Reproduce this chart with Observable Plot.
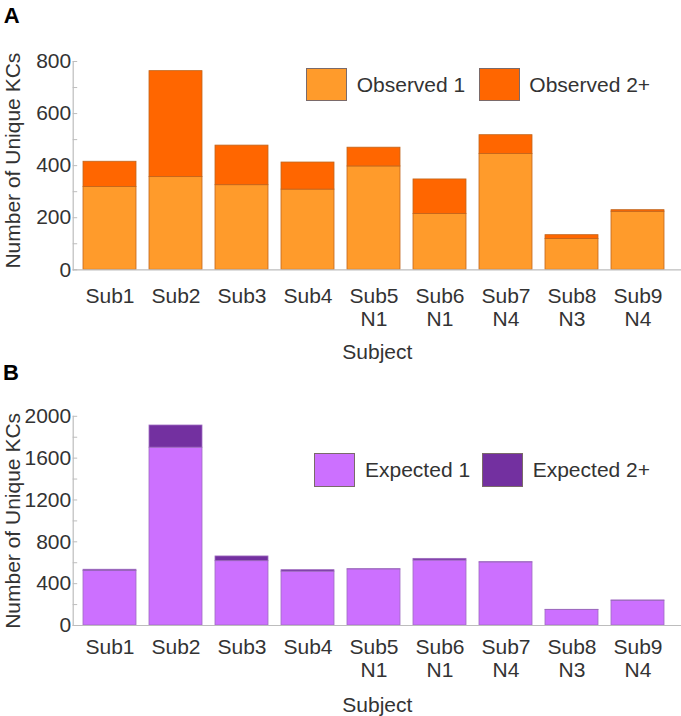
<!DOCTYPE html>
<html>
<head>
<meta charset="utf-8">
<script src="https://cdn.jsdelivr.net/npm/d3@7"></script>
<script src="https://cdn.jsdelivr.net/npm/@observablehq/plot@0.6"></script>
<style>
  html, body { margin: 0; padding: 0; background: #fff; }
  #root { position: relative; width: 681px; height: 716px; font-family: "Liberation Sans", Arial, sans-serif; color: #333; }
  .panel { position: absolute; left: 0; width: 681px; }
  .panel svg { display: block; overflow: visible; }
  .sw { position: absolute; box-sizing: border-box; border: 1px solid #7a6a6a; }
  .lt { position: absolute; font-size: 21px; line-height: 24px; white-space: nowrap; color: #333; }
</style>
</head>
<body>
<div id="root">
  <div id="panelA" class="panel" style="top:0px"></div>
  <div id="panelB" class="panel" style="top:358px"></div>
</div>
<script>
// ---- data ----
const subjects = ["Sub1", "Sub2", "Sub3", "Sub4", "Sub5", "Sub6", "Sub7", "Sub8", "Sub9"];
const tickLabels = ["Sub1", "Sub2", "Sub3", "Sub4", "Sub5\nN1", "Sub6\nN1", "Sub7\nN4", "Sub8\nN3", "Sub9\nN4"];

const observedSeries = ["Observed 1", "Observed 2+"];
const observed1 = [318, 356, 325, 308, 397, 214, 445, 118, 223];
const observed2plus = [97, 407, 152, 104, 72, 133, 72, 15, 6];
const observedColors = ["#FF9B2B", "#FF6600"];

const expectedSeries = ["Expected 1", "Expected 2+"];
const expected1 = [520, 1700, 615, 515, 536, 621, 603, 148, 237];
const expected2plus = [13, 212, 45, 14, 2, 16, 2, 2, 2];
const expectedColors = ["#CC70FF", "#7330A0"];

const yTicksA = [0, 200, 400, 600, 800];
const yMinorA = [0, 100, 200, 300, 400, 500, 600, 700, 800];
const yTicksB = [0, 400, 800, 1200, 1600, 2000];
const yMinorB = [0, 200, 400, 600, 800, 1000, 1200, 1400, 1600, 1800, 2000];

const xLabel = "Subject";
const yLabel = "Number of Unique KCs";

// ---- build tables ----
function longTable(series, a, b) {
  const rows = [];
  subjects.forEach((s, i) => {
    rows.push({subject: s, series: series[0], value: a[i]});
    rows.push({subject: s, series: series[1], value: b[i]});
  });
  return rows;
}
const obsData = longTable(observedSeries, observed1, observed2plus);
const expData = longTable(expectedSeries, expected1, expected2plus);
const labelMap = new Map(subjects.map((s, i) => [s, tickLabels[i]]));

const ML = 72.7;
function panel({data, series, colors, domainY, ticks, minor, marginTop, marginBottom, tickPad, subjDy, yLabDy, letter, letterDx, letterDy, barStroke}) {
  return Plot.plot({
    width: 681,
    height: 358,
    marginLeft: ML,
    marginRight: 0,
    marginTop,
    marginBottom,
    style: {fontFamily: '"Liberation Sans", Arial, sans-serif', fontSize: "21px", color: "#333", background: "transparent", overflow: "visible"},
    x: {domain: subjects, paddingInner: 0.196, paddingOuter: 0.1855, align: 0.39, axis: null},
    y: {domain: domainY, axis: null},
    color: {domain: series, range: colors},
    marks: [
      Plot.barY(data, {x: "subject", y: "value", fill: "series", stroke: barStroke, strokeWidth: 0.8}),
      Plot.ruleY([0], {stroke: "#bdbdbd", strokeWidth: 1.2}),
      Plot.frame({anchor: "left", stroke: "#bdbdbd", strokeWidth: 1.2}),
      Plot.axisY(minor, {tickSize: -4.5, tickFormat: () => "", stroke: "#bdbdbd", label: null}),
      Plot.axisY(ticks, {tickSize: 0, tickPadding: 2, tickFormat: d => String(d), fill: "#333", fontSize: 21, label: null}),
      Plot.axisX(subjects, {tickSize: 0, tickPadding: tickPad, tickFormat: d => labelMap.get(d), fill: "#333", fontSize: 21, lineHeight: 1.12, label: null}),
      Plot.text([xLabel], {frameAnchor: "bottom", textAnchor: "middle", lineAnchor: "top", dy: subjDy, fill: "#333", fontSize: 21}),
      Plot.text([yLabel], {frameAnchor: "left", textAnchor: "middle", rotate: -90, lineAnchor: "middle", dx: 12.5 - ML, dy: yLabDy, fill: "#333", fontSize: 21}),
      Plot.text([letter], {frameAnchor: "top-left", textAnchor: "start", lineAnchor: "top", dx: letterDx, dy: letterDy, fill: "#000", fontSize: 22, fontWeight: "bold"})
    ]
  });
}

const A = panel({
  data: obsData, series: observedSeries, colors: observedColors, domainY: [0, 800],
  ticks: yTicksA, minor: yMinorA, marginTop: 61, marginBottom: 88.7, tickPad: 16.4,
  subjDy: 74.7, yLabDy: -5, letter: "A", letterDx: 3.3 - ML, letterDy: 7 - 61, barStroke: "#c0651c"
});
document.getElementById("panelA").appendChild(A);

const B = panel({
  data: expData, series: expectedSeries, colors: expectedColors, domainY: [0, 2000],
  ticks: yTicksB, minor: yMinorB, marginTop: 57.8, marginBottom: 91, tickPad: 11.7,
  subjDy: 72, yLabDy: 0, letter: "B", letterDx: 2.5 - ML, letterDy: 5.5 - 57.8, barStroke: "#9f6cc0"
});
document.getElementById("panelB").appendChild(B);

// ---- legends (HTML overlays) ----
function legend(host, items) {
  items.forEach(it => {
    const sw = document.createElement("div");
    sw.className = "sw";
    sw.style.left = it.sx + "px"; sw.style.top = it.sy + "px";
    sw.style.width = it.sw + "px"; sw.style.height = it.sh + "px";
    sw.style.background = it.color;
    host.appendChild(sw);
    const t = document.createElement("div");
    t.className = "lt";
    t.textContent = it.label;
    t.style.left = it.tx + "px"; t.style.top = (it.sy + it.sh / 2 - 12) + "px";
    host.appendChild(t);
  });
}
const root = document.getElementById("root");
legend(root, [
  {label: observedSeries[0], color: observedColors[0], sx: 306, sy: 68, sw: 41, sh: 33, tx: 356.7},
  {label: observedSeries[1], color: observedColors[1], sx: 479.3, sy: 68, sw: 41, sh: 33, tx: 529.3}
]);
legend(root, [
  {label: expectedSeries[0], color: expectedColors[0], sx: 314, sy: 453.3, sw: 40.7, sh: 33.4, tx: 365},
  {label: expectedSeries[1], color: expectedColors[1], sx: 481.7, sy: 453.3, sw: 41.3, sh: 33.4, tx: 532.7}
]);
</script>
</body>
</html>
